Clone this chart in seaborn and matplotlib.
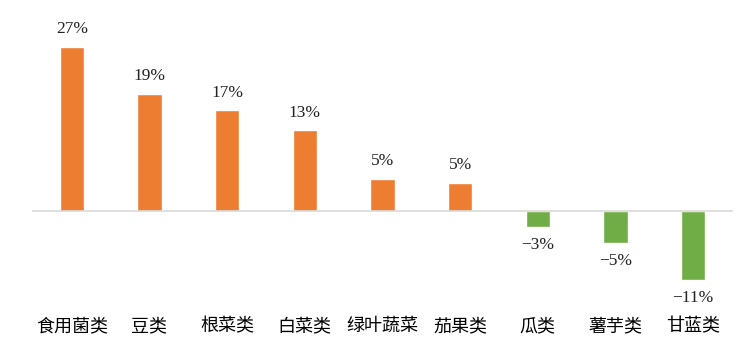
import pandas as pd
import matplotlib.pyplot as plt
import matplotlib.transforms as mtransforms
import seaborn as sns

# Data
categories = ['食用菌类', '豆类', '根菜类', '白菜类', '绿叶蔬菜', '茄果类', '瓜类', '薯芋类', '甘蓝类']
values = [27.0, 19.3, 16.6, 13.3, 5.3, 4.6, -2.6, -5.3, -11.4]

pos_color = '#ED7D31'
neg_color = '#70AD47'

df = pd.DataFrame({'cat': categories, 'val': values})
colors = [pos_color if v >= 0 else neg_color for v in values]

sns.set_style('white')
plt.rcParams['font.family'] = ['Noto Sans CJK SC', 'DejaVu Sans']

fig = plt.figure(figsize=(7.49, 3.55), dpi=100, facecolor='white')
ax = fig.add_axes([33 / 749, 59 / 355, 699 / 749, 267 / 355])

sns.barplot(data=df, x='cat', y='val', hue='cat', order=categories,
            palette=colors, saturation=1, width=0.31, legend=False, ax=ax, zorder=2)

ax.set_xlim(-0.5, len(categories) - 0.5)
ax.set_ylim(-14, 30)

# Axis line at zero
for s in ['top', 'right', 'left']:
    ax.spines[s].set_visible(False)
ax.spines['bottom'].set_position(('data', 0))
ax.spines['bottom'].set_color('#d9d9d9')
ax.spines['bottom'].set_linewidth(1.2)
ax.spines['bottom'].set_zorder(3)
ax.set_yticks([])
ax.set_xticks(range(len(categories)))
ax.set_xticklabels([''] * len(categories))
ax.tick_params(axis='x', direction='in', length=5, width=1, color='#d9d9d9')
ax.set_axisbelow(False)
ax.set_xlabel('')
ax.set_ylabel('')

# Value labels
for i, v in enumerate(values):
    txt = f"{abs(v):.0f}%"
    if v < 0:
        txt = '−' + txt
        ax.annotate(txt, (i, v), xytext=(0, -7), textcoords='offset points',
                    ha='center', va='top', fontsize=12.5, family='Liberation Serif', color='#222222')
    else:
        ax.annotate(txt, (i, v), xytext=(0, 7), textcoords='offset points',
                    ha='center', va='bottom', fontsize=12.5, family='Liberation Serif', color='#222222')

# Category labels along the bottom
trans = mtransforms.blended_transform_factory(ax.transData, fig.transFigure)
for i, c in enumerate(categories):
    ax.text(i, 1 - 326 / 355, c, transform=trans, ha='center', va='center',
            fontsize=13, color='black')

fig.savefig('out.png', dpi=100, facecolor='white')
